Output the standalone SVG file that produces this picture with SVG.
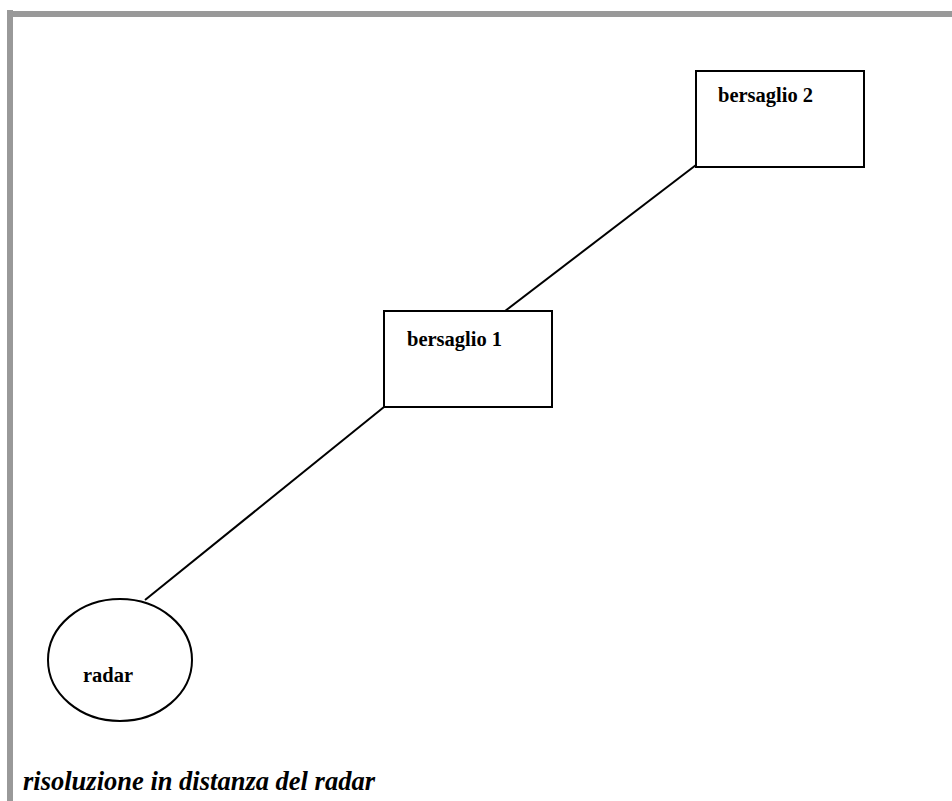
<svg xmlns="http://www.w3.org/2000/svg" width="952" height="801" viewBox="0 0 952 801">
  <style>
    .frame { fill: #999999; }
    .shape { fill: #ffffff; stroke: #000000; stroke-width: 2; }
    .link { stroke: #000000; stroke-width: 2; fill: none; }
    .label { font-family: "Liberation Serif", "Times New Roman", serif; font-weight: bold; font-size: 20.5px; fill: #000000; }
    .caption { font-family: "Liberation Serif", "Times New Roman", serif; font-weight: bold; font-style: italic; font-size: 26.5px; fill: #000000; }
  </style>
  <rect x="0" y="0" width="952" height="801" fill="#ffffff"/>
  <!-- page frame -->
  <rect class="frame" x="7" y="11" width="945" height="6"/>
  <rect class="frame" x="7" y="10" width="6" height="791"/>

  <!-- connectors -->
  <g id="connectors">
    <line class="link" x1="505" y1="311" x2="696" y2="165"/>
    <line class="link" x1="384" y1="407" x2="145" y2="600"/>
  </g>

  <g id="bersaglio2">
    <rect class="shape" x="696" y="71" width="168" height="96"/>
    <text class="label" x="718" y="102">bersaglio 2</text>
  </g>

  <g id="bersaglio1">
    <rect class="shape" x="384" y="311" width="168" height="96"/>
    <text class="label" x="407" y="346">bersaglio 1</text>
  </g>

  <g id="radar">
    <ellipse class="shape" cx="120" cy="660" rx="72" ry="61"/>
    <text class="label" x="83" y="682">radar</text>
  </g>

  <text class="caption" x="23" y="790">risoluzione in distanza del radar</text>
</svg>
